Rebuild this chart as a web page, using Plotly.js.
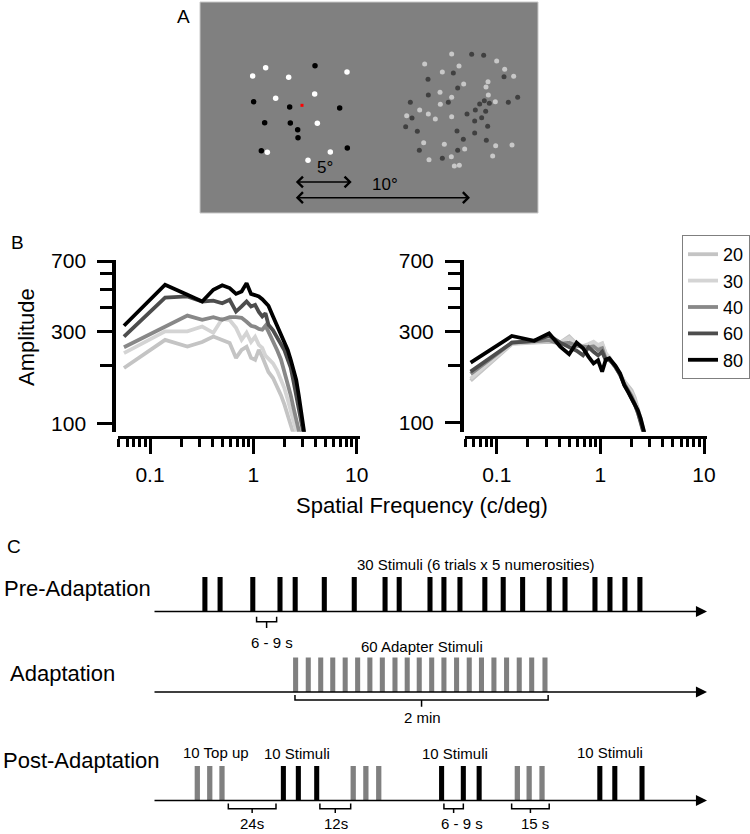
<!DOCTYPE html>
<html><head><meta charset="utf-8">
<script src="https://cdn.plot.ly/plotly-3.0.1.min.js"></script>
<style>html,body{margin:0;padding:0;background:#fff}#chart{width:750px;height:834px}</style>
</head><body><div id="chart"></div>
<script>
// ---------- Panel A: stimulus dot positions (stimulus image units) ----------
const whiteDotsX = [197,158,266,441,227,344,352,202,391,324];
const whiteDotsY = [203,228,232,216,295,282,370,457,456,481];
const blackDotsX = [345,161,269,419,194,271,293,294,184,442];
const blackDotsY = [197,305,321,324,368,369,389,413,452,444];
const fixationX = [306];
const fixationY = [316];
const lightDotsX = [755,674,777,727,890,914,941,864,858,791,720,755,865,886,721,659,685,620,706,755,671,733,794,887,936,878,754,687,763,778];
const lightDotsY = [162,192,198,216,183,208,229,245,261,252,277,292,285,305,313,330,342,347,357,350,428,433,447,437,435,468,470,479,498,496];
const darkDotsX = [815,851,760,684,912,773,685,631,745,839,853,868,925,953,826,857,801,636,845,824,617,863,652,771,824,790,859,658,773,727];
const darkDotsY = [163,166,219,238,230,264,285,307,307,312,302,310,307,292,330,334,342,354,353,363,380,379,394,393,399,418,421,451,451,475];

// ---------- Panel B: amplitude spectra ----------
const numerosities = ['20','30','40','60','80'];
const freq = [0.056,0.14,0.23,0.32,0.41,0.5,0.59,0.68,0.77,0.86,0.95,1.04,1.13,1.22,1.31,1.4,1.55,1.7,1.85,2.0,2.15,2.3,2.45,2.6,2.75,2.9,3.0,3.2];
const left20 = [194,272,251,265,283,272,262,219,241,250,219,214,241,222,200,185,172,155,140,125,112,98,88,78,70,65,60,55];
const left30 = [232,301,301,319,296,350,345,314,272,296,265,282,256,247,225,218,205,188,170,152,133,115,100,88,78,70,65,60];
const left40 = [249,318,364,346,357,346,357,357,354,338,322,318,310,307,322,300,270,240,215,186,162,140,120,102,88,78,72,65];
const left60 = [283,452,458,431,435,422,440,382,406,431,406,414,380,360,374,326,305,280,258,240,215,195,165,140,118,100,90,78];
const left80 = [322,527,467,431,496,523,506,472,486,537,472,467,458,443,422,409,360,323,291,269,241,214,190,168,140,115,100,80];
const right20 = [166,258,262,265,262,282,258,250,255,262,250,258,228,218,205,195,180,165,155,148,135,120,105,92,80,70,65,60];
const right30 = [170,260,265,268,262,278,255,252,258,265,255,260,230,220,206,196,180,163,152,143,130,117,103,91,79,70,65,60];
const right40 = [180,262,266,270,258,262,252,250,248,250,240,245,215,212,205,195,178,160,148,138,126,114,102,90,79,70,65,60];
const right60 = [185,262,268,285,262,250,238,225,248,235,225,235,212,215,205,196,178,158,146,135,124,113,101,90,79,70,65,60];
const right80 = [206,284,268,293,250,228,262,245,221,204,212,185,214,217,207,198,181,157,145,133,123,116,105,93,80,70,65,60];
const yTickVals = [100,300,700];
const yTickText = ['100','300','700'];
const yMinorVals = [200,400,500,600];
const xTickVals = [0.1,1,10];
const xTickText = ['0.1','1','10'];
const xMinorVals = [0.05,0.06,0.07,0.08,0.09,0.2,0.3,0.4,0.5,0.6,0.7,0.8,0.9,2,3,4,5,6,7,8,9];

// ---------- Panel C: timelines (seconds) ----------
const preTimes = [24.6,31.8,47.3,60.2,67.4,81.2,95.4,110.0,116.7,131.3,137.9,145.5,157.3,166.0,175.2,187.8,195.3,209.5,216.6,223.7,230.8];
const adaptTimes = [67.6,73.6,79.5,85.2,91.1,97.0,102.8,108.7,114.7,120.5,126.2,132.1,137.9,143.9,149.9,155.7,161.6,167.6,173.6,179.5,185.8];
const postTopUpTimes = [21.0,26.9,32.7,94.9,100.9,107.0,172.7,178.3,184.4];
const postTestTimes = [61.8,68.9,77.6,136.8,147.1,154.6,211.8,218.9,231.8];
const timelineEnd = 262.6;
const preIntervals = [[49.1,58.6]];
const adaptIntervals = [[67.3,187.3]];
const postIntervals = [[35.7,58.3],[79.1,93.7],[137.9,147.1],[170.0,187.8]];

// ---------- helpers ----------
const W = 750, H = 834;
const PX = p => p / W;
const PY = p => 1 - p / H;
const FONT = 'Liberation Sans, Arial, Helvetica, sans-serif';
const colors = {'20':'#c4c4c4','30':'#d4d4d4','40':'#888888','60':'#4d4d4d','80':'#000000'};

const traces = [];
// Panel A dots
traces.push({type:'scatter',mode:'markers',x:whiteDotsX,y:whiteDotsY,xaxis:'x',yaxis:'y',marker:{color:'#ffffff',size:5.5},showlegend:false,hoverinfo:'skip'});
traces.push({type:'scatter',mode:'markers',x:blackDotsX,y:blackDotsY,xaxis:'x',yaxis:'y',marker:{color:'#000000',size:5.5},showlegend:false,hoverinfo:'skip'});
traces.push({type:'scatter',mode:'markers',x:lightDotsX,y:lightDotsY,xaxis:'x',yaxis:'y',marker:{color:'#c8c8c8',size:5},showlegend:false,hoverinfo:'skip'});
traces.push({type:'scatter',mode:'markers',x:darkDotsX,y:darkDotsY,xaxis:'x',yaxis:'y',marker:{color:'#404040',size:5},showlegend:false,hoverinfo:'skip'});
traces.push({type:'scatter',mode:'markers',x:fixationX,y:fixationY,xaxis:'x',yaxis:'y',marker:{color:'#ff0000',size:3,symbol:'square'},showlegend:false,hoverinfo:'skip'});

// Panel B curves
const leftSeries = [left20,left30,left40,left60,left80];
const rightSeries = [right20,right30,right40,right60,right80];
numerosities.forEach((n,i)=>{
  traces.push({type:'scatter',mode:'lines',name:n,x:freq,y:leftSeries[i],xaxis:'x2',yaxis:'y2',
    line:{color:colors[n],width:3.8},showlegend:true,legendgroup:n,hoverinfo:'skip'});
});
numerosities.forEach((n,i)=>{
  traces.push({type:'scatter',mode:'lines',name:n,x:freq,y:rightSeries[i],xaxis:'x3',yaxis:'y3',
    line:{color:colors[n],width:3.8},showlegend:false,legendgroup:n,hoverinfo:'skip'});
});

// Panel C bars
const ones = arr => arr.map(()=>1);
traces.push({type:'bar',x:preTimes,y:ones(preTimes),base:0,width:2.4,xaxis:'x4',yaxis:'y4',marker:{color:'#000',line:{width:0}},showlegend:false,hoverinfo:'skip'});
traces.push({type:'bar',x:adaptTimes,y:ones(adaptTimes),base:0,width:2.4,xaxis:'x4',yaxis:'y5',marker:{color:'#808080',line:{width:0}},showlegend:false,hoverinfo:'skip'});
traces.push({type:'bar',x:postTopUpTimes,y:ones(postTopUpTimes),base:0,width:2.5,xaxis:'x4',yaxis:'y6',marker:{color:'#808080',line:{width:0}},showlegend:false,hoverinfo:'skip'});
traces.push({type:'bar',x:postTestTimes,y:ones(postTestTimes),base:0,width:2.4,xaxis:'x4',yaxis:'y6',marker:{color:'#000',line:{width:0}},showlegend:false,hoverinfo:'skip'});

const hidden = {visible:false,fixedrange:true};
const specX = (domain, range, pos) => ({
  domain, range, type:'log', anchor:'free', position:pos,
  showline:true, linewidth:3.5, linecolor:'#000', mirror:false,
  ticks:'outside', ticklen:15, tickwidth:3, tickcolor:'#000',
  tickmode:'array', tickvals:xTickVals, ticktext:xTickText, ticklabelstandoff:3,
  minor:{tickmode:'array', tickvals:xMinorVals, ticklen:8, tickwidth:3, tickcolor:'#000', showgrid:false},
  tickfont:{size:21,color:'#000',family:FONT}, showgrid:false, zeroline:false, fixedrange:true
});
const specY = (domain, range, pos) => ({
  domain, range, type:'log', anchor:'free', position:pos,
  showline:true, linewidth:3.5, linecolor:'#000',
  ticks:'outside', ticklen:15, tickwidth:3, tickcolor:'#000',
  tickmode:'array', tickvals:yTickVals, ticktext:yTickText, ticklabelstandoff:7,
  minor:{tickmode:'array', tickvals:yMinorVals, ticklen:12, tickwidth:3, tickcolor:'#000', showgrid:false},
  tickfont:{size:21,color:'#000',family:FONT}, showgrid:false, zeroline:false, fixedrange:true
});

const annotations = [];
const lab = (text, x, y, size, xanchor) => annotations.push({
  text, x:PX(x), y:PY(y), xref:'paper', yref:'paper', showarrow:false,
  xanchor:xanchor||'center', yanchor:'middle', font:{size, color:'#000', family:FONT}
});
// panel letters
lab('A',183,17,19); lab('B',17,243,19); lab('C',14,546,19);
// panel A scale arrows
[[283,455,546],[283,810,593]].forEach(a=>{
  annotations.push({x:a[1],y:a[2],ax:a[0],ay:a[2],xref:'x',yref:'y',axref:'x',ayref:'y',text:'',
    showarrow:true,arrowside:'end+start',arrowhead:4,startarrowhead:4,arrowsize:1.4,startarrowsize:1.4,arrowwidth:1.5,arrowcolor:'#000',standoff:0,startstandoff:0});
});
lab('5°',325,168,17); lab('10°',385,185,17);
// panel B titles
annotations.push({text:'Amplitude',x:PX(27),y:PY(337),xref:'paper',yref:'paper',showarrow:false,textangle:-90,
  xanchor:'center',yanchor:'middle',font:{size:22,color:'#000',family:FONT}});
lab('Spatial Frequency (c/deg)',422,505,22);
// panel C row labels
lab('Pre-Adaptation',2,588,22,'left');
lab('Adaptation',8,673,22,'left');
lab('Post-Adaptation',1,760,22,'left');
lab('30 Stimuli (6 trials x 5 numerosities)',476,564,15);
lab('6 - 9 s',272,642,15);
lab('60 Adapter Stimuli',422,646,15);
lab('2 min',422,717,15);
lab('10 Top up',216,752,15);
lab('10 Stimuli',297,753,15);
lab('10 Stimuli',455,753,15);
lab('10 Stimuli',610,752,15);
lab('24s',252,823,15);
lab('12s',336,823,15);
lab('6 - 9 s',462,823,15);
lab('15 s',535,823,15);
// timeline arrows
['y4','y5','y6'].forEach(ya=>{
  annotations.push({x:timelineEnd,y:0,ax:0,ay:0,xref:'x4',yref:ya,axref:'x4',ayref:ya,text:'',
    showarrow:true,arrowhead:2,arrowsize:1.3,arrowwidth:1.7,arrowcolor:'#000',standoff:0});
});

// brackets
const shapes = [];
shapes.push({type:'rect',xref:'x domain',yref:'y domain',x0:0,x1:1,y0:0,y1:1,fillcolor:'#808080',line:{color:'#c8c8c8',width:1},layer:'below'});
const bracket = (iv, ya, y0, y1, y2) => {
  const xm = (iv[0]+iv[1])/2;
  shapes.push({type:'path',xref:'x4',yref:ya,
    path:`M${iv[0]},${y0} L${iv[0]},${y1} L${iv[1]},${y1} L${iv[1]},${y0} M${xm},${y1} L${xm},${y2}`,
    line:{color:'#000',width:1.5}});
};
preIntervals.forEach(iv=>bracket(iv,'y4',-0.15,-0.3,-0.48));
adaptIntervals.forEach(iv=>bracket(iv,'y5',-0.09,-0.23,-0.43));
postIntervals.forEach(iv=>bracket(iv,'y6',-0.09,-0.24,-0.36));

const rowRange = [-33/34.5, 57/34.5];
const layout = {
  width:W, height:H, margin:{l:0,r:0,t:0,b:0},
  paper_bgcolor:'#ffffff', plot_bgcolor:'rgba(0,0,0,0)',
  font:{family:FONT,color:'#000'},
  barmode:'overlay',
  xaxis:Object.assign({domain:[PX(200),PX(538)],range:[0,1014],anchor:'y'},hidden),
  yaxis:Object.assign({domain:[PY(213),PY(2)],range:[639,6],anchor:'x'},hidden),
  xaxis2:specX([PX(118),PX(360)],[-1.3096,1.032],PY(436.7)),
  yaxis2:specY([PY(431.7),PY(260)],[1.956,2.8505],PX(113.3)),
  xaxis3:specX([PX(465),PX(706.7)],[-1.306,1.026],PY(436.7)),
  yaxis3:specY([PY(431.7),PY(260)],[1.953,2.8505],PX(461)),
  xaxis4:Object.assign({domain:[PX(153),PX(707)],range:[0,timelineEnd],anchor:'y6'},hidden),
  yaxis4:Object.assign({domain:[PY(644.5),PY(554.5)],range:rowRange,anchor:'x4'},hidden),
  yaxis5:Object.assign({domain:[PY(725),PY(635)],range:rowRange,anchor:'x4'},hidden),
  yaxis6:Object.assign({domain:[PY(833.5),PY(743.5)],range:rowRange,anchor:'x4'},hidden),
  legend:{x:PX(682),y:PY(235),xanchor:'left',yanchor:'top',bordercolor:'#7f7f7f',borderwidth:1,
    bgcolor:'#ffffff',font:{size:18,color:'#000',family:FONT},itemwidth:30,tracegroupgap:0,traceorder:'normal'},
  showlegend:true,
  annotations, shapes
};
Plotly.newPlot('chart', traces, layout, {staticPlot:true, displayModeBar:false});
</script>
</body></html>
